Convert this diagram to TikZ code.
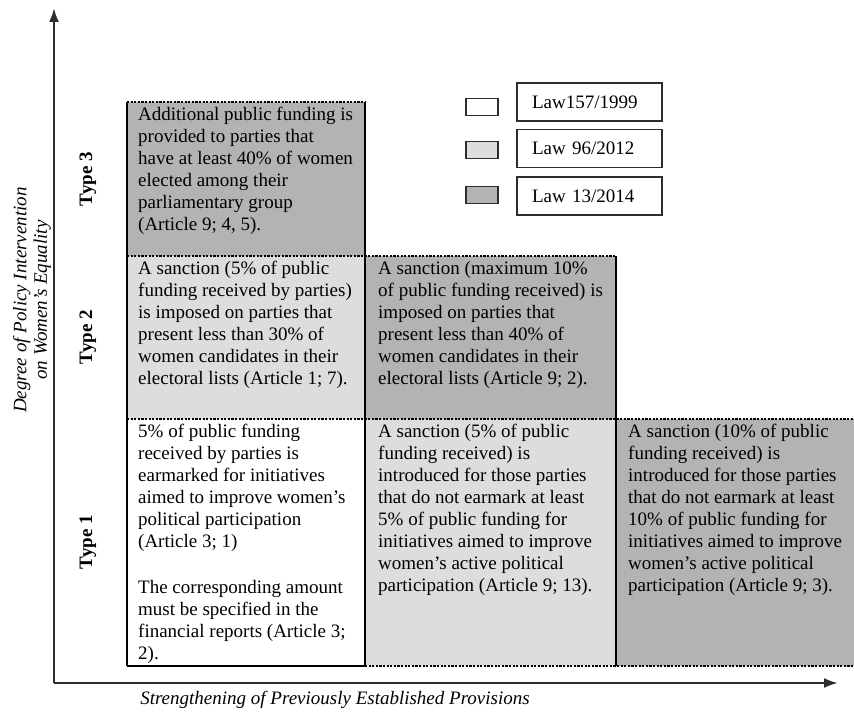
\documentclass[tikz,border=0pt]{standalone}
\usepackage{fontspec}
\setmainfont{Liberation Serif}
\usetikzlibrary{arrows.meta,positioning}

\definecolor{lawold}{RGB}{255,255,255}
\definecolor{lawmid}{RGB}{220,221,223}
\definecolor{lawnew}{RGB}{178,179,181}
\definecolor{inkgray}{RGB}{45,45,45}

\begin{document}
\begin{tikzpicture}[
            x=1pt, y=-1pt,
            celltext/.style={
                anchor=north west,
                inner sep=0pt,
                align=left,
                font=\fontsize{19}{22}\selectfont
            },
            typelabel/.style={
                rotate=90,
                font=\fontsize{19}{22}\selectfont\bfseries
            },
            axistitle/.style={
                align=center,
                font=\fontsize{19}{20.5}\selectfont\itshape
            },
            vline/.style={
                line width=2pt,
                black
            },
            hline/.style={
                dash pattern=on 2.2pt off 1.4pt,
                line width=1.3pt,
                black
            },
            axisline/.style={
                line width=2.4pt,
                inkgray,
                -{Latex[length=14pt,width=10pt]}
            },
            legsquare/.style={
                draw=inkgray,
                line width=1.2pt,
                minimum width=32pt,
                minimum height=17pt,
                inner sep=0pt
            },
            leglabel/.style={
                draw=inkgray,
                line width=1.2pt,
                minimum height=38pt,
                text width=115pt,
                inner xsep=15pt,
                inner ysep=0pt,
                align=left,
                font=\fontsize{19}{22}\selectfont
            }
        ]

        \useasboundingbox (0,0) rectangle (854,714);

% Grid lines of the table (columns x, rows y)
            \def\xa{127}
            \def\xb{365}
            \def\xc{616}
            \def\xd{854}
            \def\ya{102}
            \def\yb{256}
            \def\yc{419}
            \def\yd{666}

% --- Cell backgrounds ---
            \fill[lawnew] (\xa,\ya) rectangle (\xb,\yb);
            \fill[lawmid] (\xa,\yb) rectangle (\xb,\yc);
            \fill[lawnew] (\xb,\yb) rectangle (\xc,\yc);
            \fill[lawold] (\xa,\yc) rectangle (\xb,\yd);
            \fill[lawmid] (\xb,\yc) rectangle (\xc,\yd);
            \fill[lawnew] (\xc,\yc) rectangle (\xd,\yd);

% --- Cell borders: dashed rows, solid columns ---
            \draw[hline] (\xa,\ya) -- (\xb,\ya);
            \draw[hline] (\xa,\yb) -- (\xc,\yb);
            \draw[hline] (\xa,\yc) -- (\xd,\yc);
            \draw[hline] (\xb,\yd) -- (\xd,\yd);
            \draw[vline] (\xa,\yd) -- (\xb,\yd);
            \draw[vline] (\xa,\ya) -- (\xa,\yd);
            \draw[vline] (\xb,\ya) -- (\xb,\yd);
            \draw[vline] (\xc,\yb) -- (\xc,\yd);

% --- Cell texts ---
            \node[celltext] (t3a) at (\xa+11,\ya+5) {Additional public funding is\\provided to parties that\\have at least 40\% of women\\elected among their\\parliamentary group\\(Article 9; 4, 5).};

            \node[celltext] (t2a) at (\xa+11,\yb+5) {A sanction (5\% of public\\funding received by parties)\\is imposed on parties that\\present less than 30\% of\\women candidates in their\\electoral lists (Article 1; 7).};
            \node[celltext] (t2b) at (\xb+13,\yb+5) {A sanction (maximum 10\%\\of public funding received) is\\imposed on parties that\\present less than 40\% of\\women candidates in their\\electoral lists (Article 9; 2).};

            \node[celltext] (t1a) at (\xa+11,\yc+5) {5\% of public funding\\received by parties is\\earmarked for initiatives\\aimed to improve women’s\\political participation\\(Article 3; 1)\\[24pt]The corresponding amount\\must be specified in the\\financial reports (Article 3;\\2).};
            \node[celltext] (t1b) at (\xb+13,\yc+5) {A sanction (5\% of public\\funding received) is\\introduced for those parties\\that do not earmark at least\\5\% of public funding for\\initiatives aimed to improve\\women’s active political\\participation (Article 9; 13).};
            \node[celltext] (t1c) at (\xc+12,\yc+5) {A sanction (10\% of public\\funding received) is\\introduced for those parties\\that do not earmark at least\\10\% of public funding for\\initiatives aimed to improve\\women’s active political\\participation (Article 9; 3).};

% --- Row labels ---
            \node[typelabel] (type3) at (88,179) {Type 3};
            \node[typelabel] (type2) at (88,337) {Type 2};
            \node[typelabel] (type1) at (88,542) {Type 1};

% --- Legend ---
            \foreach \fc/\lab/\ys/\yl [count=\i] in {lawold/{Law157/1999}/107/102, lawmid/{Law 96/2012}/150/148.5, lawnew/{Law 13/2014}/195/196} {
                \node[legsquare, fill=\fc] (sq\i) at (482,\ys) {};
                \node[leglabel] (lg\i) at (589.5,\yl) {\lab};
            }

% --- Axes ---
            \coordinate (origin) at (54,683);
            \coordinate (ytip) at (54,8);
            \coordinate (xtip) at (838,683);
            \draw[axisline] (origin) -- (ytip);
            \draw[axisline] (origin) -- (xtip);

            \node[axistitle, rotate=90] (ytitle) at (32,300) {Degree of Policy Intervention\\on Women’s Equality};
            \node[axistitle] (xtitle) at (335,700) {Strengthening of Previously Established Provisions};

        \end{tikzpicture}
\end{document}
